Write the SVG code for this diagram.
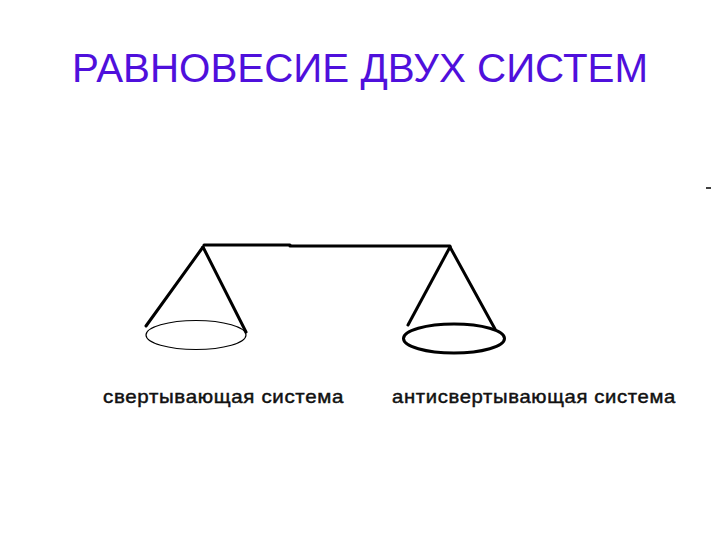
<svg xmlns="http://www.w3.org/2000/svg" width="720" height="540" viewBox="0 0 720 540">
<style>
.title{font-family:"Liberation Sans",Arial,sans-serif;font-size:41px;fill:#4f10dc}
.lbl{font-family:"Liberation Sans",Arial,sans-serif;font-size:18.5px;fill:#111;stroke:#111;stroke-width:0.45;letter-spacing:0.6px}
.ln{stroke:#000;stroke-width:3;stroke-linecap:round;fill:none}
</style>
<rect width="720" height="540" fill="#fff"/>
<text class="title" x="72" y="82" textLength="576" lengthAdjust="spacingAndGlyphs">РАВНОВЕСИЕ ДВУХ СИСТЕМ</text>
<line x1="706" y1="188" x2="711" y2="188" stroke="#000" stroke-width="1.5"/>
<g id="connectors">
<line class="ln" x1="204" y1="245" x2="290" y2="245"/>
<line class="ln" x1="290" y1="246" x2="450" y2="246" stroke-width="2.5"/>
</g>
<g id="left-pan">
<line class="ln" x1="203" y1="247" x2="146" y2="326"/>
<line class="ln" x1="203" y1="247" x2="246" y2="332"/>
<ellipse cx="196" cy="335" rx="50" ry="14.5" fill="none" stroke="#000" stroke-width="1.2"/>
</g>
<g id="right-pan">
<line class="ln" x1="450" y1="247" x2="408" y2="325"/>
<line class="ln" x1="450" y1="247" x2="495" y2="329"/>
<ellipse cx="454" cy="338.5" rx="50.5" ry="14.5" fill="none" stroke="#000" stroke-width="3"/>
</g>
<g id="label-left"><text class="lbl" x="103" y="403" textLength="241" lengthAdjust="spacingAndGlyphs">свертывающая система</text></g>
<g id="label-right"><text class="lbl" x="392" y="403" textLength="284" lengthAdjust="spacingAndGlyphs">антисвертывающая система</text></g>
</svg>
